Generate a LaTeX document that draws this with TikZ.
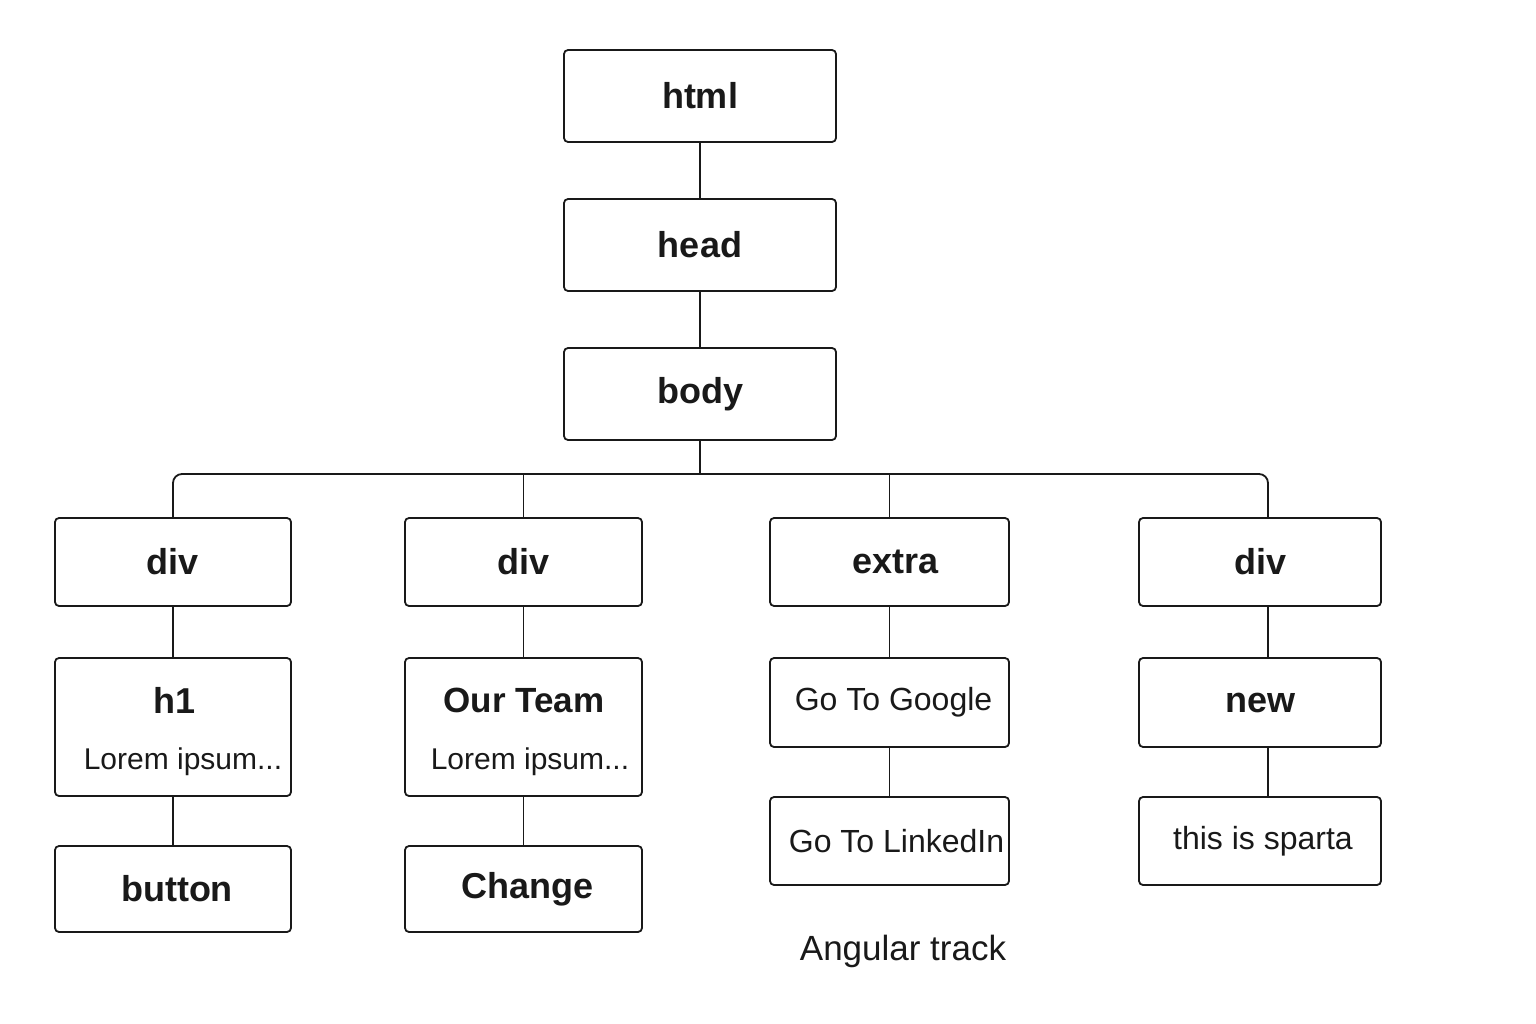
\documentclass[tikz,border=0pt]{standalone}
\usepackage{fontspec}
\setmainfont{Liberation Sans}
\begin{document}
\begin{tikzpicture}[x=1pt,y=-1pt,
  line width=1.8pt, draw=black!90,
  box/.style={draw=black!90, line width=1.8pt, rounded corners=4pt, inner sep=0pt, text=black!90},
  ttl/.style={font=\fontsize{36}{40}\selectfont\bfseries, text=black!90},
  reg/.style={font=\fontsize{32}{36}\selectfont, text=black!90},
  conn/.style={draw=black!90, line width=1.8pt}]
\useasboundingbox (0,0) rectangle (1536,1024);
% top chain
\node[box, minimum width=272pt, minimum height=92pt, ttl] (html) at (700,96) {html};
\node[box, minimum width=272pt, minimum height=92pt, ttl] (head) at (700,245) {head};
\node[box, minimum width=272pt, minimum height=92pt, ttl] (body) at (700,394) {body};
% row 2
\node[box, minimum width=236pt, minimum height=88pt, ttl] (d1) at (173,562) {div};
\node[box, minimum width=237pt, minimum height=88pt, ttl] (d2) at (523.5,562) {div};
\node[box, minimum width=239pt, minimum height=88pt, ttl] (ex) at (889.5,562) {\hspace*{12pt}extra};
\node[box, minimum width=242pt, minimum height=88pt, ttl] (d4) at (1260,562) {div};
% row 3
\node[box, minimum width=236pt, minimum height=138pt] (h1) at (173,727) {};
\node[ttl] (h1t) at (175,700) {h1};
\node[reg, font=\fontsize{30}{34}\selectfont] (h1l) at (183,762) {Lorem ipsum...};
\node[box, minimum width=237pt, minimum height=138pt] (ot) at (523.5,727) {};
\node[ttl, font=\fontsize{35}{40}\selectfont\bfseries] (ott) at (524,700) {Our Team};
\node[reg, font=\fontsize{30}{34}\selectfont] (otl) at (530,762) {Lorem ipsum...};
\node[box, minimum width=239pt, minimum height=89pt, reg] (gg) at (889.5,702.5) {\hspace*{8pt}Go To Google};
\node[box, minimum width=242pt, minimum height=89pt, ttl] (nw) at (1260,702.5) {new};
% row 4
\node[box, minimum width=236pt, minimum height=86pt, ttl] (bt) at (173,889) {\hspace*{8pt}button};
\node[box, minimum width=237pt, minimum height=86pt, ttl] (ch) at (523.5,889) {\hspace*{8pt}Change};
\node[box, minimum width=239pt, minimum height=88pt, reg] (li) at (889.5,841) {\hspace*{14pt}Go To LinkedIn};
\node[box, minimum width=242pt, minimum height=88pt, reg] (sp) at (1260,841) {\hspace*{6pt}this is sparta};
% caption
\node[reg, font=\fontsize{35}{40}\selectfont] (cap) at (903,951) {Angular track};
% connectors
\coordinate (bj) at (700,474);
\coordinate (d4top) at (1268,518);
\coordinate (d4bot) at (1268,606);
\coordinate (nwtop) at (1268,658);
\coordinate (nwbot) at (1268,747);
\coordinate (sptop) at (1268,797);
\draw[conn] (html) -- (head);
\draw[conn] (head) -- (body);
\draw[conn] (body) -- (bj);
\draw[conn, rounded corners=9pt] (d1.north) |- (bj);
\draw[conn, rounded corners=9pt] (d4top) |- (bj);
\draw[conn] (d2.north) -- (d2.north |- bj);
\draw[conn] (ex.north) -- (ex.north |- bj);
\draw[conn] (d1) -- (h1);
\draw[conn] (h1) -- (bt);
\draw[conn] (d2) -- (ot);
\draw[conn] (ot) -- (ch);
\draw[conn] (ex) -- (gg);
\draw[conn] (gg) -- (li);
\draw[conn] (d4bot) -- (nwtop);
\draw[conn] (nwbot) -- (sptop);
\end{tikzpicture}
\end{document}
